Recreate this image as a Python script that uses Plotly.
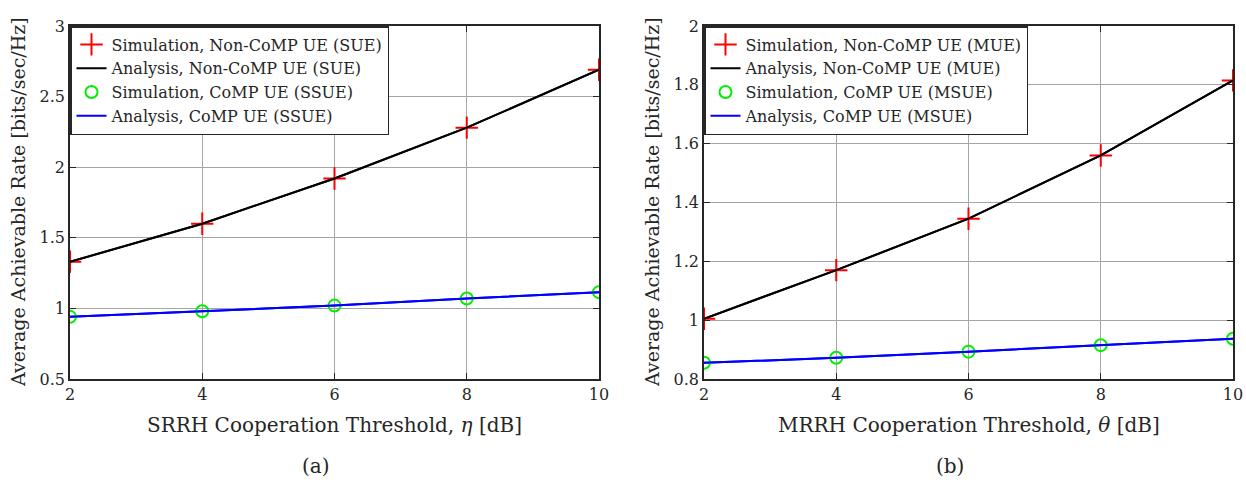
import plotly.graph_objects as go

# ---- data ----
eta_db = [2, 4, 6, 8, 10]
theta_db = [2, 4, 6, 8, 10]

sim_noncomp_sue = [1.33, 1.60, 1.92, 2.28, 2.69]
ana_noncomp_sue = [1.33, 1.60, 1.92, 2.28, 2.69]
sim_comp_ssue = [0.94, 0.98, 1.02, 1.07, 1.115]
ana_comp_ssue = [0.94, 0.98, 1.02, 1.07, 1.115]

sim_noncomp_mue = [1.005, 1.17, 1.345, 1.56, 1.815]
ana_noncomp_mue = [1.005, 1.17, 1.345, 1.56, 1.815]
sim_comp_msue = [0.855, 0.872, 0.893, 0.915, 0.937]
ana_comp_msue = [0.855, 0.872, 0.893, 0.915, 0.937]

x_ticks = [2, 4, 6, 8, 10]
y_ticks_a = [0.5, 1, 1.5, 2, 2.5, 3]
y_ticks_b = [0.8, 1, 1.2, 1.4, 1.6, 1.8, 2]

W, H = 1246, 483
FONT = "DejaVu Serif"

fig = go.Figure()

def add_panel(x, sim_nc, ana_nc, sim_c, ana_c, names, xa, ya, leg):
    fig.add_trace(go.Scatter(x=x, y=ana_nc, mode="lines", line=dict(color="black", width=2),
                             xaxis=xa, yaxis=ya, showlegend=False, hoverinfo="skip"))
    fig.add_trace(go.Scatter(x=x, y=ana_c, mode="lines", line=dict(color="#0000ff", width=2),
                             xaxis=xa, yaxis=ya, showlegend=False, hoverinfo="skip"))
    fig.add_trace(go.Scatter(x=x, y=sim_nc, mode="markers", name=names[0],
                             marker=dict(symbol="cross-thin", size=16, line=dict(color="#ff0000", width=2)),
                             xaxis=xa, yaxis=ya, legend=leg, legendrank=1))
    fig.add_trace(go.Scatter(x=x, y=ana_nc, mode="lines", name=names[1],
                             line=dict(color="black", width=2),
                             xaxis=xa, yaxis=ya, legend=leg, legendrank=2, hoverinfo="skip"))
    fig.add_trace(go.Scatter(x=x, y=sim_c, mode="markers", name=names[2],
                             marker=dict(symbol="circle-open", size=12, color="#00ee00",
                                         line=dict(color="#00ee00", width=2)),
                             xaxis=xa, yaxis=ya, legend=leg, legendrank=3))
    fig.add_trace(go.Scatter(x=x, y=ana_c, mode="lines", name=names[3],
                             line=dict(color="#0000ff", width=2),
                             xaxis=xa, yaxis=ya, legend=leg, legendrank=4, hoverinfo="skip"))

add_panel(eta_db, sim_noncomp_sue, ana_noncomp_sue, sim_comp_ssue, ana_comp_ssue,
          ["Simulation, Non-CoMP UE (SUE)", "Analysis, Non-CoMP UE (SUE)",
           "Simulation, CoMP UE (SSUE)", "Analysis, CoMP UE (SSUE)"], "x", "y", "legend")
add_panel(theta_db, sim_noncomp_mue, ana_noncomp_mue, sim_comp_msue, ana_comp_msue,
          ["Simulation, Non-CoMP UE (MUE)", "Analysis, Non-CoMP UE (MUE)",
           "Simulation, CoMP UE (MSUE)", "Analysis, CoMP UE (MSUE)"], "x2", "y2", "legend2")

y0 = 1 - 379 / H
y1 = 1 - 26 / H
dxa = [70 / W, 599 / W]
dxb = [704 / W, 1233 / W]

axis_common = dict(showline=True, linecolor="#262626", linewidth=1.5, mirror="allticks",
                   ticks="inside", ticklen=6, tickcolor="#262626", showgrid=True,
                   gridcolor="#a6a6a6", gridwidth=1, zeroline=False, automargin=False,
                   tickfont=dict(family=FONT, size=16, color="#262626"))

leg_font = dict(family=FONT, size=16, color="#262626")
fig.update_layout(
    width=W, height=H, margin=dict(l=0, r=0, t=0, b=0, autoexpand=False),
    paper_bgcolor="white", plot_bgcolor="white",
    font=dict(family=FONT, color="#262626"),
    xaxis=dict(domain=dxa, range=[2, 10], tickvals=x_ticks, anchor="y", **axis_common),
    yaxis=dict(domain=[y0, y1], range=[0.5, 3], tickvals=y_ticks_a, anchor="x", **axis_common),
    xaxis2=dict(domain=dxb, range=[2, 10], tickvals=x_ticks, anchor="y2", **axis_common),
    yaxis2=dict(domain=[y0, y1], range=[0.8, 2], tickvals=y_ticks_b, anchor="x2", **axis_common),
    legend=dict(x=dxa[0], y=y1, xanchor="left", yanchor="top", bgcolor="white",
                bordercolor="#262626", borderwidth=1.5, font=leg_font,
                tracegroupgap=0, itemwidth=30),
    legend2=dict(x=dxb[0], y=y1, xanchor="left", yanchor="top", bgcolor="white",
                 bordercolor="#262626", borderwidth=1.5, font=leg_font,
                 tracegroupgap=0, itemwidth=30),
)

xt_font = dict(family=FONT, size=20, color="#262626")
yt_font = dict(family=FONT, size=19, color="#262626")
annotations = [
    dict(text="SRRH Cooperation Threshold, <i>η</i> [dB]", x=(dxa[0] + dxa[1]) / 2, y=1 - 425 / H, font=xt_font),
    dict(text="MRRH Cooperation Threshold, <i>θ</i> [dB]", x=(dxb[0] + dxb[1]) / 2, y=1 - 425 / H, font=xt_font),
    dict(text="(a)", x=316 / W, y=1 - 466 / H, font=xt_font),
    dict(text="(b)", x=950 / W, y=1 - 466 / H, font=xt_font),
    dict(text="Average Achievable Rate [bits/sec/Hz]", x=18 / W, y=1 - 202 / H, textangle=-90, font=yt_font),
    dict(text="Average Achievable Rate [bits/sec/Hz]", x=652 / W, y=1 - 202 / H, textangle=-90, font=yt_font),
]
for a in annotations:
    fig.add_annotation(xref="paper", yref="paper", showarrow=False, xanchor="center", yanchor="middle", **a)

fig.write_html("out.html")
